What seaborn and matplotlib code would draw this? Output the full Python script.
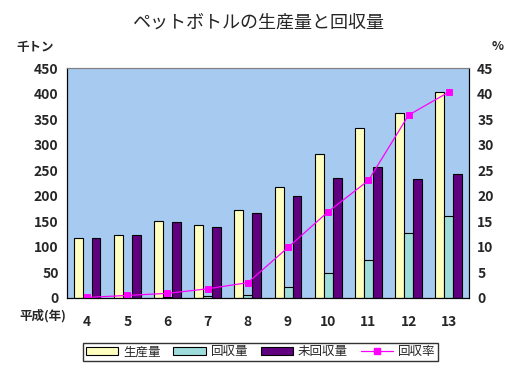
import numpy as np
import pandas as pd
import seaborn as sns
import matplotlib.pyplot as plt
from matplotlib.patches import Patch
from matplotlib.lines import Line2D

# data (平成 years)
years = ['4', '5', '6', '7', '8', '9', '10', '11', '12', '13']
production = [117, 124, 150, 142, 173, 218, 281, 332, 362, 403]   # 生産量 (千トン)
recovered = [0.3, 0.5, 2, 3, 5, 21, 48, 75, 128, 161]            # 回収量
unrecovered = [117, 124, 148, 138, 167, 199, 234, 256, 233, 242]  # 未回収量
rate = [0.1, 0.5, 0.9, 1.8, 3.0, 9.9, 16.9, 23.0, 35.8, 40.3]     # 回収率 (%)

series = ['生産量', '回収量', '未回収量']
colors = ['#FFFFC0', '#9EDCDC', '#600080']

df = pd.DataFrame({
    'year': years * 3,
    'series': np.repeat(series, len(years)),
    'value': production + recovered + unrecovered,
})

sns.set_style('white')
plt.rcParams['font.family'] = ['Noto Sans CJK JP', 'DejaVu Sans']

fig = plt.figure(figsize=(5.21, 3.72), dpi=100)
ax = fig.add_axes([0.1286, 0.199, 0.7714, 0.618])
ax.set_facecolor('#A6CAF0')

sns.barplot(data=df, x='year', y='value', hue='series', hue_order=series,
            order=years, palette=colors, width=0.667, edgecolor='black',
            linewidth=0.8, saturation=1, ax=ax, legend=False)
ax.set_ylim(0, 450)
ax.set_yticks(range(0, 451, 50))
ax.set_xlim(-0.5, len(years) - 0.5)
ax.set_xlabel('')
ax.set_ylabel('')

ax2 = ax.twinx()
sns.pointplot(x=years, y=rate, order=years, ax=ax2, color='#FF00FF',
              markers='s', linestyles='-', markersize=5, linewidth=0.9)
ax2.set_ylim(0, 45)
ax2.set_yticks(range(0, 46, 5))
ax2.set_xlim(-0.5, len(years) - 0.5)
ax2.set_ylabel('')

for a in (ax, ax2):
    for s in a.spines.values():
        s.set_visible(True)
    a.spines['top'].set_color('#808080')
    a.spines['left'].set_color('black')
    a.spines['right'].set_color('black')
    a.spines['bottom'].set_color('black')
    a.tick_params(length=0, labelsize=10)
    for lab in a.get_yticklabels():
        lab.set_fontweight('bold')
for lab in ax.get_xticklabels():
    lab.set_fontweight('bold')
ax.tick_params(axis='x', pad=12)
ax.tick_params(axis='y', pad=6)
ax2.tick_params(axis='y', pad=6)
# small inward marks between categories
ax.set_xticks(np.arange(0.5, len(years) - 1, 1.0), minor=True)
ax.tick_params(axis='x', which='minor', direction='in', length=3, width=0.8, color='black')

fig.text(0.495, 0.94, 'ペットボトルの生産量と回収量', ha='center', va='center', fontsize=13)
fig.text(0.068, 0.873, '千トン', ha='center', va='center', fontsize=9, fontweight='bold')
fig.text(0.955, 0.876, '%', ha='center', va='center', fontsize=9, fontweight='bold')
fig.text(0.082, 0.152, '平成(年)', ha='center', va='center', fontsize=9, fontweight='bold')

handles = [Patch(facecolor=c, edgecolor='black', linewidth=0.8) for c in colors]
handles.append(Line2D([], [], color='#FF00FF', marker='s', markersize=5, linewidth=0.9))
fig.legend(handles, series + ['回収率'], loc='center', bbox_to_anchor=(0.5, 0.054),
           ncol=4, frameon=True, fancybox=False, edgecolor='black', fontsize=9,
           handlelength=2.6, handleheight=0.6, columnspacing=1.0, handletextpad=0.4,
           borderpad=0.2)

fig.savefig('out.png', dpi=100)
